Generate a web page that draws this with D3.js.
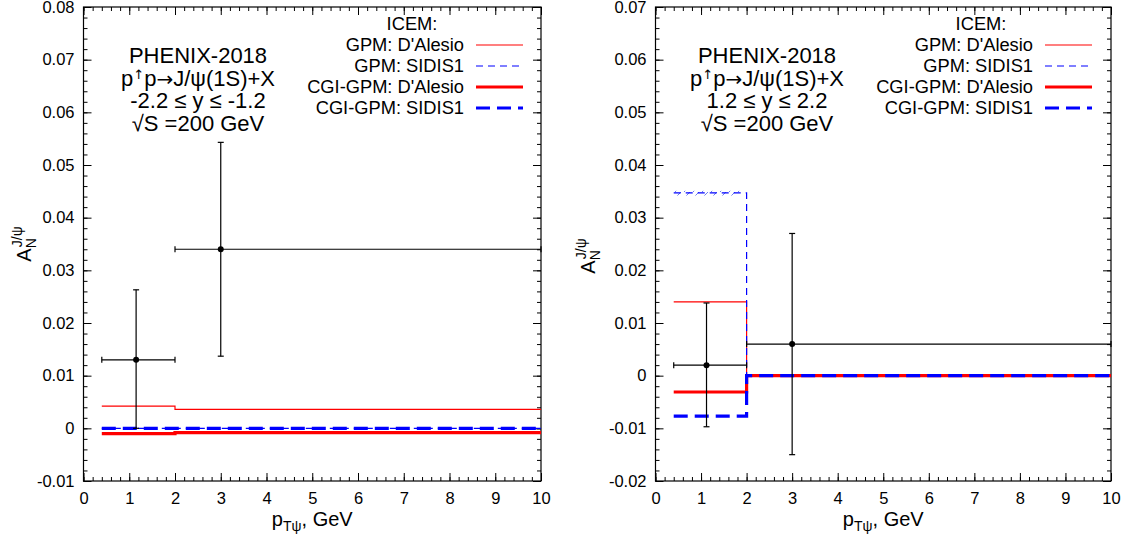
<!DOCTYPE html>
<html>
<head>
<meta charset="utf-8">
<script src="https://cdn.jsdelivr.net/npm/d3@7"></script>
<style>
  body { margin: 0; background: #fff; }
  svg text { font-family: "Liberation Sans", Arial, Helvetica, sans-serif; fill: #000; }
</style>
</head>
<body>
<svg id="chart" width="1129" height="539"></svg>
<script>
// bins of p_T (GeV)
var binEdges = [0.4, 2, 10];

// left panel: -2.2 <= y <= -1.2
var leftGpmDAlesio = [0.0042, 0.0036];
var leftGpmSidis1  = [0.0, 0.0];
var leftCgiDAlesio = [-0.001, -0.0008];
var leftCgiSidis1  = [0.0, 0.0];
var leftDataX   = [1.15, 3];
var leftDataY   = [0.013, 0.034];
var leftDataYLo = [0.0, 0.0137];
var leftDataYHi = [0.0263, 0.0543];

// right panel: 1.2 <= y <= 2.2
var rightGpmDAlesio = [0.014, 0.0];
var rightGpmSidis1  = [0.0347, 0.0];
var rightCgiDAlesio = [-0.0031, 0.0];
var rightCgiSidis1  = [-0.0077, 0.0];
var rightDataX   = [1.12, 3];
var rightDataY   = [0.002, 0.006];
var rightDataYLo = [-0.0097, -0.015];
var rightDataYHi = [0.0138, 0.027];
var rightSidis1Band = [0.0342, 0.0351];
var rightSidis1BandX = [0.4, 1.85];

// ticks
var xTicks = [0, 1, 2, 3, 4, 5, 6, 7, 8, 9, 10];
var leftYTicks  = [-0.01, 0, 0.01, 0.02, 0.03, 0.04, 0.05, 0.06, 0.07, 0.08];
var rightYTicks = [-0.02, -0.01, 0, 0.01, 0.02, 0.03, 0.04, 0.05, 0.06, 0.07];

var legendLabels = ["GPM: D'Alesio", "GPM: SIDIS1", "CGI-GPM: D'Alesio", "CGI-GPM: SIDIS1"];

var svg = d3.select("#chart");

var defs = svg.append("defs");
var pat = defs.append("pattern")
	.attr("id", "hatch")
	.attr("patternUnits", "userSpaceOnUse")
	.attr("width", 9).attr("height", 6);
pat.append("line")
	.attr("x1", 0).attr("y1", 6).attr("x2", 6).attr("y2", 0)
	.attr("stroke", "#6f7ff0").attr("stroke-width", 1);

var styles = [
	{ color: "#ff0000", width: 1.2, dash: null },
	{ color: "#0000ff", width: 1.2, dash: "7,5" },
	{ color: "#ff0000", width: 3.2, dash: null },
	{ color: "#0000ff", width: 3.2, dash: "14,7" }
];

function fmt(v) {
	if (Math.abs(v) < 1e-9) return "0";
	return v.toFixed(2);
}

function drawPanel(p) {
	var g = svg.append("g");
	var x = d3.scaleLinear().domain([0, 10]).range([p.x0, p.x1]);
	var y = d3.scaleLinear().domain(p.yDomain).range([481, 7]);

	var minorX = d3.range(0, 10.001, 0.2);
	var minorY = d3.range(p.yDomain[0], p.yDomain[1] + 1e-6, 0.002);

	// frame ticks (inward)
	g.append("g").attr("transform", "translate(0,481)")
		.call(d3.axisBottom(x).tickValues(minorX).tickSize(-4).tickFormat(""));
	g.append("g").attr("transform", "translate(0,481)")
		.call(d3.axisBottom(x).tickValues(xTicks).tickSize(-8).tickPadding(11).tickFormat(d3.format("d")));
	g.append("g").attr("transform", "translate(0,7)")
		.call(d3.axisTop(x).tickValues(minorX).tickSize(-4).tickFormat(""));
	g.append("g").attr("transform", "translate(0,7)")
		.call(d3.axisTop(x).tickValues(xTicks).tickSize(-8).tickFormat(""));
	g.append("g").attr("transform", "translate(" + p.x0 + ",0)")
		.call(d3.axisLeft(y).tickValues(minorY).tickSize(-4).tickFormat(""));
	g.append("g").attr("transform", "translate(" + p.x0 + ",0)")
		.call(d3.axisLeft(y).tickValues(p.yTicks).tickSize(-8).tickPadding(9).tickFormat(fmt));
	g.append("g").attr("transform", "translate(" + p.x1 + ",0)")
		.call(d3.axisRight(y).tickValues(minorY).tickSize(-4).tickFormat(""));
	g.append("g").attr("transform", "translate(" + p.x1 + ",0)")
		.call(d3.axisRight(y).tickValues(p.yTicks).tickSize(-8).tickFormat(""));

	g.selectAll(".domain").remove();
	g.selectAll(".tick line").attr("stroke", "#000");
	g.selectAll(".tick text").style("font-size", "16.5px")
		.style("font-family", "Liberation Sans, Arial, sans-serif");

	g.append("rect")
		.attr("x", p.x0).attr("y", 7)
		.attr("width", p.x1 - p.x0).attr("height", 474)
		.attr("fill", "none").attr("stroke", "#000").attr("stroke-width", 1.2);

	// hatched band
	if (p.band) {
		g.append("rect")
			.attr("x", x(p.bandX[0])).attr("y", y(p.band[1]))
			.attr("width", x(p.bandX[1]) - x(p.bandX[0]))
			.attr("height", y(p.band[0]) - y(p.band[1]))
			.attr("fill", "url(#hatch)");
	}

	// theory curves as step functions
	var line = d3.line()
		.x(function(d) { return x(d[0]); })
		.y(function(d) { return y(d[1]); })
		.curve(d3.curveStepAfter);

	p.curves.forEach(function(vals, i) {
		var pts = [[binEdges[0], vals[0]], [binEdges[1], vals[1]], [binEdges[2], vals[1]]];
		g.append("path")
			.attr("d", line(pts))
			.attr("fill", "none")
			.attr("stroke", styles[i].color)
			.attr("stroke-width", styles[i].width)
			.attr("stroke-dasharray", styles[i].dash);
	});

	// data points
	var cap = 3;
	p.dataX.forEach(function(dx, i) {
		var cx = x(dx), cy = y(p.dataY[i]);
		var xl = x(binEdges[i]), xr = x(binEdges[i + 1]);
		var yl = y(p.dataYLo[i]), yh = y(p.dataYHi[i]);
		var e = g.append("g").attr("stroke", "#000").attr("stroke-width", 1.2);
		e.append("line").attr("x1", xl).attr("x2", xr).attr("y1", cy).attr("y2", cy);
		e.append("line").attr("x1", cx).attr("x2", cx).attr("y1", yl).attr("y2", yh);
		e.append("line").attr("x1", xl).attr("x2", xl).attr("y1", cy - cap).attr("y2", cy + cap);
		e.append("line").attr("x1", xr).attr("x2", xr).attr("y1", cy - cap).attr("y2", cy + cap);
		e.append("line").attr("x1", cx - cap).attr("x2", cx + cap).attr("y1", yl).attr("y2", yl);
		e.append("line").attr("x1", cx - cap).attr("x2", cx + cap).attr("y1", yh).attr("y2", yh);
		g.append("circle").attr("cx", cx).attr("cy", cy).attr("r", 3).attr("fill", "#000");
	});

	// annotation
	var ann = g.append("g").attr("text-anchor", "middle").style("font-size", "22px");
	ann.append("text").attr("x", p.annX).attr("y", 63).text("PHENIX-2018");
	var t2 = ann.append("text").attr("x", p.annX).attr("y", 85.5);
	t2.append("tspan").text("p");
	t2.append("tspan").attr("dy", -7).style("font-size", "13px")
		.style("font-family", "DejaVu Sans").text("\u2191");
	t2.append("tspan").attr("dy", 7).text("p");
	t2.append("tspan").style("font-family", "DejaVu Sans").style("font-size", "20px").text("\u2192");
	t2.append("tspan").text("J/\u03c8(1S)+X");
	ann.append("text").attr("x", p.annX).attr("y", 108).text(p.rapidity);
	ann.append("text").attr("x", p.annX).attr("y", 131).text("\u221aS =200 GeV");

	// legend
	var leg = g.append("g").style("font-size", "18.3px");
	leg.append("text").attr("x", p.legX - 52).attr("y", 30).attr("text-anchor", "middle").text("ICEM:");
	legendLabels.forEach(function(lab, i) {
		var by = 51 + i * 21;
		leg.append("text").attr("x", p.legX).attr("y", by).attr("text-anchor", "end").text(lab);
		leg.append("line")
			.attr("x1", p.legX + 12).attr("x2", p.legX + 59)
			.attr("y1", by - 6).attr("y2", by - 6)
			.attr("stroke", styles[i].color)
			.attr("stroke-width", styles[i].width)
			.attr("stroke-dasharray", styles[i].dash);
	});

	// axis titles
	var xt = g.append("text").attr("x", (p.x0 + p.x1) / 2).attr("y", 526)
		.attr("text-anchor", "middle").style("font-size", "20px");
	xt.append("tspan").text("p");
	xt.append("tspan").attr("dy", 5).style("font-size", "14px").text("T\u03c8");
	xt.append("tspan").attr("dy", -5).text(", GeV");

	var yt = g.append("text")
		.attr("transform", "translate(" + p.yLabX + "," + p.yLabY + ") rotate(-90)")
		.attr("text-anchor", "middle").style("font-size", "20px");
	yt.append("tspan").text("A");
	yt.append("tspan").attr("dy", 5).style("font-size", "14px").text("N");
	yt.append("tspan").attr("dx", -9).attr("dy", -14).style("font-size", "14px").text("J/\u03c8");
}

drawPanel({
	x0: 83.5, x1: 541,
	yDomain: [-0.01, 0.08], yTicks: leftYTicks,
	curves: [leftGpmDAlesio, leftGpmSidis1, leftCgiDAlesio, leftCgiSidis1],
	dataX: leftDataX, dataY: leftDataY, dataYLo: leftDataYLo, dataYHi: leftDataYHi,
	annX: 198, rapidity: "-2.2 \u2264 y \u2264 -1.2",
	legX: 464, yLabX: 31, yLabY: 244
});

drawPanel({
	x0: 655.5, x1: 1111,
	yDomain: [-0.02, 0.07], yTicks: rightYTicks,
	curves: [rightGpmDAlesio, rightGpmSidis1, rightCgiDAlesio, rightCgiSidis1],
	dataX: rightDataX, dataY: rightDataY, dataYLo: rightDataYLo, dataYHi: rightDataYHi,
	band: rightSidis1Band, bandX: rightSidis1BandX,
	annX: 767, rapidity: "1.2 \u2264 y \u2264 2.2",
	legX: 1033, yLabX: 595, yLabY: 256
});
</script>
</body>
</html>
